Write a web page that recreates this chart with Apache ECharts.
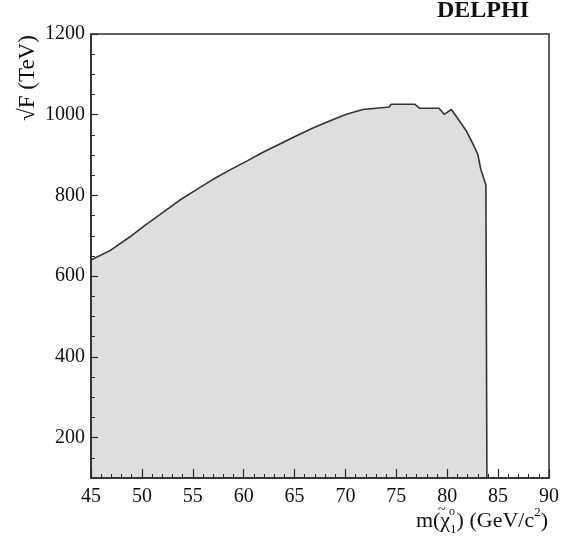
<!DOCTYPE html>
<html>
<head>
<meta charset="utf-8">
<script src="https://cdn.jsdelivr.net/npm/echarts@6/dist/echarts.min.js"></script>
<style>
  html, body { margin: 0; padding: 0; background: #fff; }
  #chart { width: 578px; height: 543px; }
</style>
</head>
<body>
<div id="chart"></div>
<script>
// excluded region boundary
var massX = [45, 46.9, 48.8, 50.3, 51.8, 53.7, 55.4, 57.0, 58.7, 60.3, 61.9, 63.5, 65.2, 66.8, 68.5,
             70.1, 71.7, 74.3, 74.5, 76.8, 77.3, 79.2, 79.7, 80.4, 81.0, 81.9, 82.5, 83.0, 83.3, 83.8, 83.9, 83.9];
var sqrtF = [640, 664, 697, 726, 753, 788, 815, 840, 864, 885, 907, 927, 948, 967, 985,
             1001, 1013, 1019, 1026, 1026, 1016, 1016, 1001, 1013, 992, 959, 929, 902, 865, 826, 823, 100];

var xTicks = [45, 50, 55, 60, 65, 70, 75, 80, 85, 90];
var yLabels = [200, 400, 600, 800, 1000, 1200];
var yMinor = [150, 250, 300, 350, 450, 500, 550, 650, 700, 750, 850, 900, 950, 1050, 1100, 1150];

var font = '"Liberation Serif", "DejaVu Serif", serif';
var ink = '#2a2a2a';

var boundary = [];
for (var i = 0; i < massX.length; i++) {
    boundary.push([massX[i], sqrtF[i]]);
}

var myChart = echarts.init(document.getElementById('chart'), null, {renderer: 'canvas'});
var option = {
    backgroundColor: '#fff',
    animation: false,
    grid: {
        left: 91, right: 29, top: 34, bottom: 65,
        show: true, borderColor: ink, borderWidth: 1.5, backgroundColor: 'transparent', z: 5
    },
    xAxis: {
        type: 'value', z: 5,
        min: xTicks[0], max: xTicks[xTicks.length - 1], interval: 5,
        axisLine: {show: true, onZero: false, lineStyle: {color: ink, width: 1.5}},
        axisTick: {show: true, inside: true, length: 9, lineStyle: {color: ink, width: 1.2}},
        minorTick: {show: true, splitNumber: 5, length: 4, lineStyle: {color: ink, width: 1}},
        axisLabel: {color: '#111', fontFamily: font, fontSize: 20, margin: 9},
        splitLine: {show: false}
    },
    yAxis: [{
        type: 'value', z: 5,
        min: 100, max: 1200,
        axisLine: {show: true, onZero: false, lineStyle: {color: ink, width: 1.5}},
        axisTick: {show: true, inside: true, length: 7, customValues: yLabels, lineStyle: {color: ink, width: 1.2}},
        axisLabel: {color: '#111', fontFamily: font, fontSize: 20, margin: 6, customValues: yLabels,
            formatter: function (v) { return String(v); }},
        splitLine: {show: false}
    }, {
        type: 'value', z: 5,
        min: 100, max: 1200,
        position: 'left',
        axisLine: {show: false},
        axisTick: {show: true, inside: true, length: 4, customValues: yMinor, lineStyle: {color: ink, width: 1}},
        axisLabel: {show: false},
        splitLine: {show: false}
    }],
    series: [{
        type: 'line',
        data: boundary,
        showSymbol: false,
        z: 1,
        lineStyle: {color: '#333', width: 1.6},
        areaStyle: {color: '#dedede', opacity: 1}
    }],
    graphic: [{
        type: 'text', left: 437, top: -1,
        style: {text: 'DELPHI', font: 'bold 24px ' + font, fill: '#111'}
    }, {
        type: 'text', x: 28, y: 78, rotation: Math.PI / 2, z: 10,
        style: {text: '\u221AF (TeV)', font: '23px ' + font, fill: '#111', align: 'center', verticalAlign: 'middle'}
    }, {
        type: 'text', left: 143, top: 366,
        style: {text: 'Excluded at 95% C.L.', font: '19px ' + font, fill: '#111'}
    }, {
        type: 'text', right: 30, top: 506,
        style: {
            text: '{t|m(\u03C7}{sub|1}{t|) (GeV/c}{sup|2}{t|)}',
            rich: {
                t: {fontFamily: font, fontSize: 22, fill: '#111', lineHeight: 30},
                sup: {fontFamily: font, fontSize: 13, fill: '#111', verticalAlign: 'top', lineHeight: 30},
                sub: {fontFamily: font, fontSize: 13, fill: '#111', verticalAlign: 'bottom', lineHeight: 30}
            }
        }
    }, {
        // tilde and superscript "o" stacked over the chi / subscript
        type: 'text', left: 438, top: 503,
        style: {text: '~', font: '14px ' + font, fill: '#111'}
    }, {
        type: 'text', left: 449, top: 506,
        style: {text: 'o', font: '12px ' + font, fill: '#111'}
    }]
};
myChart.setOption(option);
</script>
</body>
</html>
